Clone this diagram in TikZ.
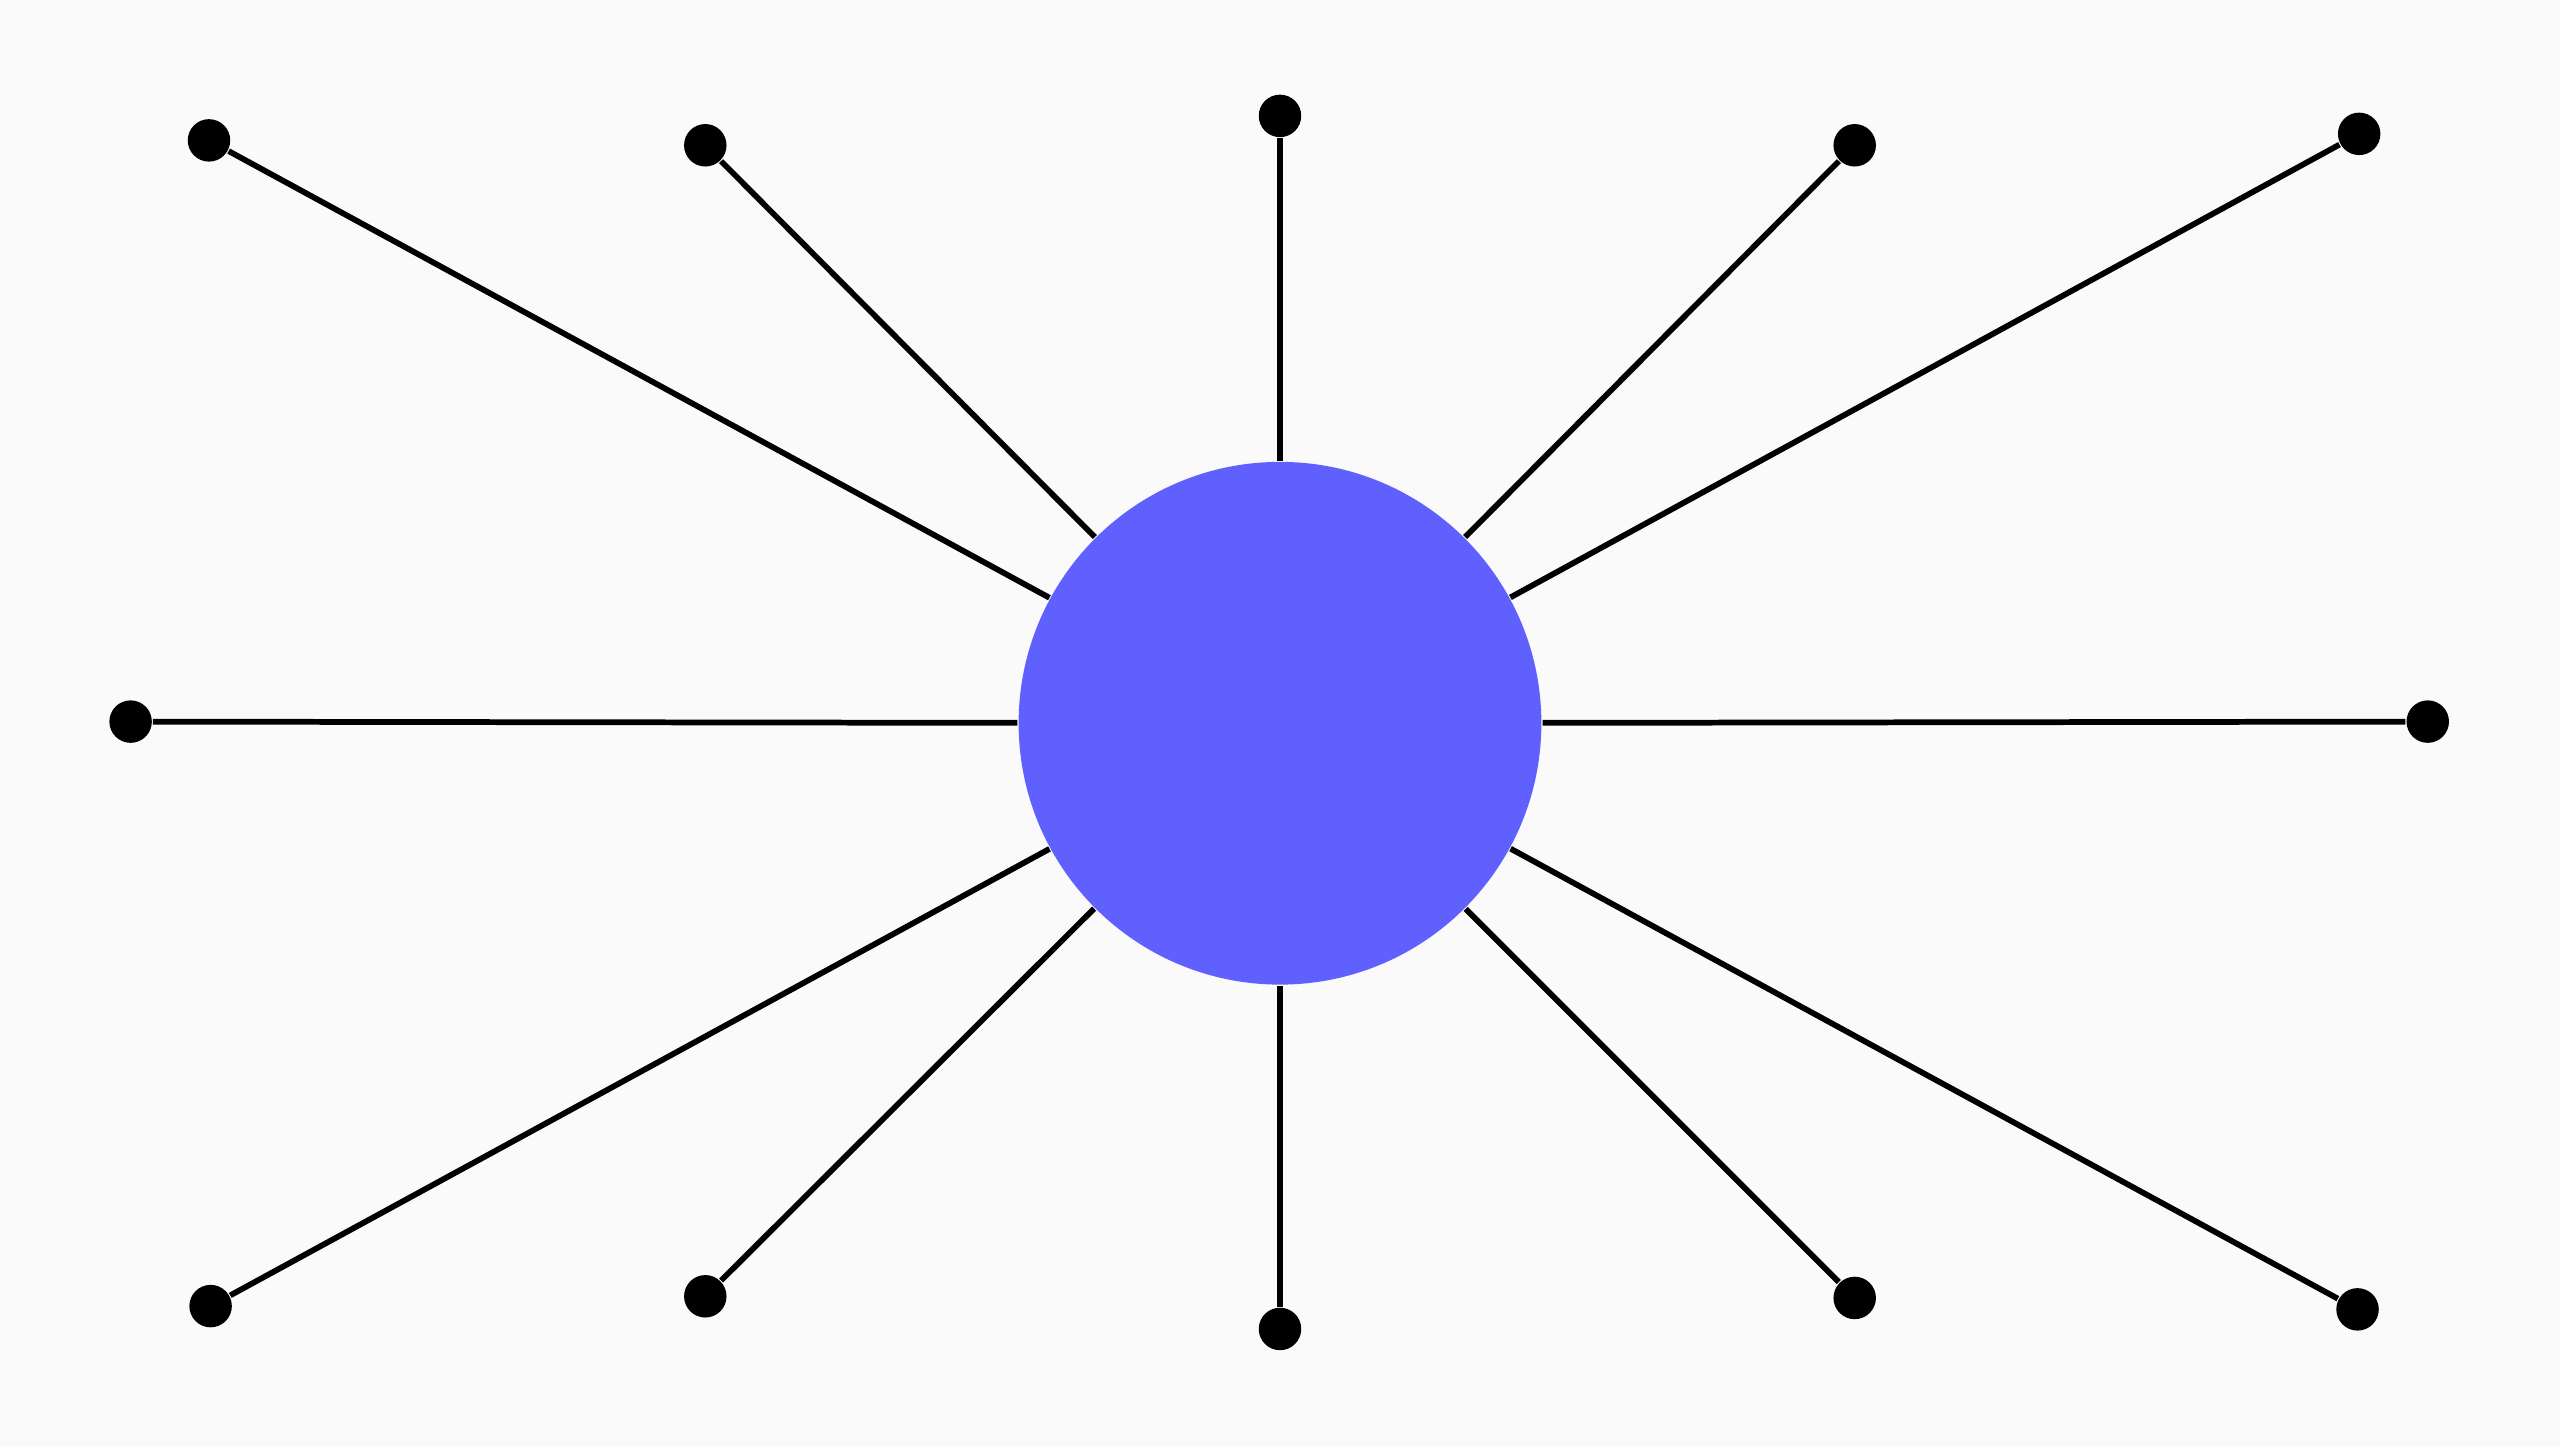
\documentclass[tikz,border=0pt]{standalone}
\usepackage{tikz}
\definecolor{hubblue}{HTML}{6060FF}
\definecolor{paper}{HTML}{FAFAFA}

\begin{document}
\begin{tikzpicture}[x=0.01cm,y=-0.01cm]
\tikzstyle{every node}+=[inner sep=0pt]
\tikzstyle{hubdot}=[circle, fill=hubblue, minimum size=3.2cm]
\tikzstyle{enddot}=[circle, fill=black, minimum size=0.26cm]
\tikzstyle{spoke}=[black, line width=1pt]
\fill [paper] (0,0) rectangle (1568,886);
\useasboundingbox (0,0) rectangle (1568,886);
\node [hubdot] (hub) at (784,443) {};
% top row
\node [enddot] (tl1) at (128,86) {};
\node [enddot] (tl2) at (432,89) {};
\node [enddot] (top) at (784,71) {};
\node [enddot] (tr2) at (1136,89) {};
\node [enddot] (tr1) at (1445,82) {};
% middle
\node [enddot] (left) at (80,442) {};
\node [enddot] (right) at (1487,442) {};
% bottom row
\node [enddot] (bl1) at (129,800) {};
\node [enddot] (bl2) at (432,794) {};
\node [enddot] (bot) at (784,814) {};
\node [enddot] (br2) at (1136,795) {};
\node [enddot] (br1) at (1444,802) {};
\draw [spoke] (hub) -- (tl1);
\draw [spoke] (hub) -- (tl2);
\draw [spoke] (hub) -- (top);
\draw [spoke] (hub) -- (tr2);
\draw [spoke] (hub) -- (tr1);
\draw [spoke] (hub) -- (left);
\draw [spoke] (hub) -- (right);
\draw [spoke] (hub) -- (bl1);
\draw [spoke] (hub) -- (bl2);
\draw [spoke] (hub) -- (bot);
\draw [spoke] (hub) -- (br2);
\draw [spoke] (hub) -- (br1);
\end{tikzpicture}
\end{document}
